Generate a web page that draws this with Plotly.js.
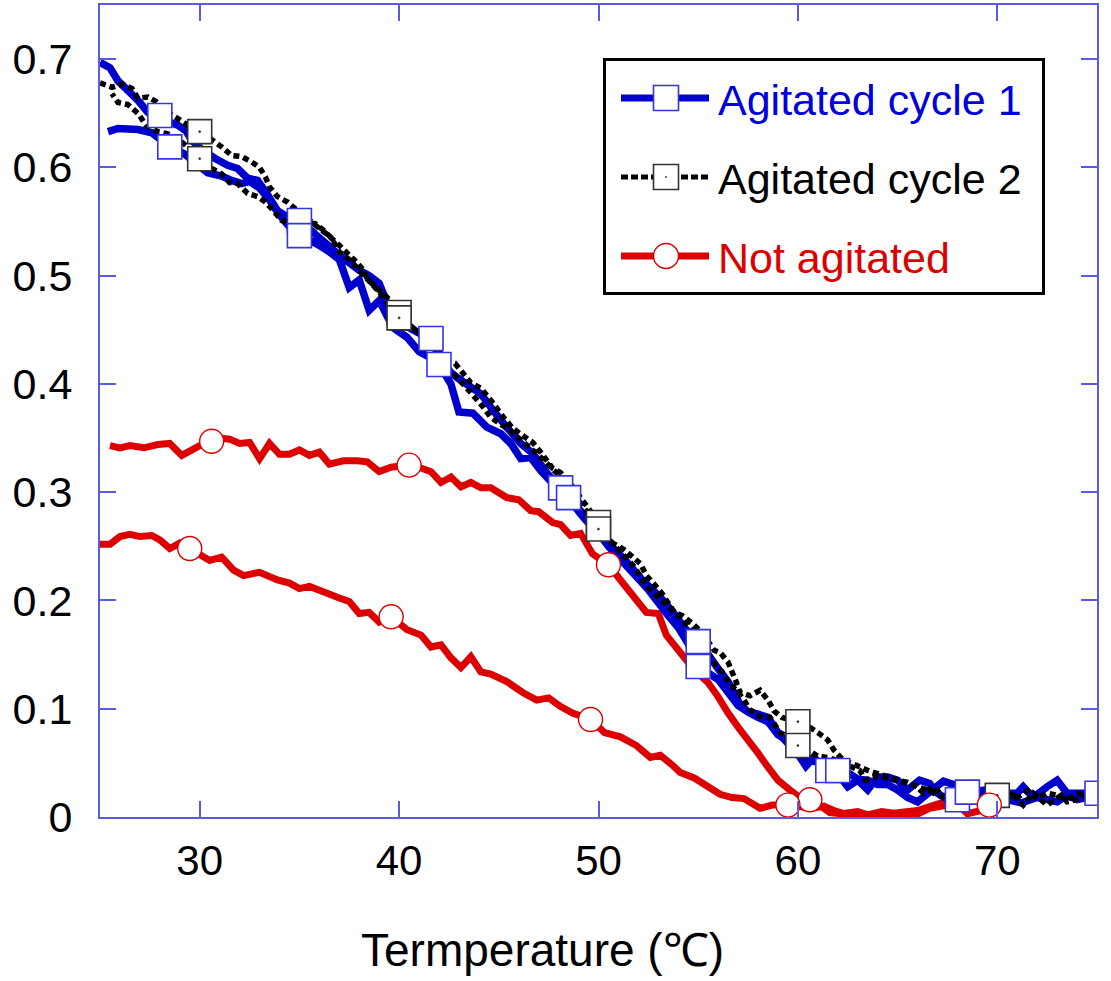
<!DOCTYPE html>
<html>
<head>
<meta charset="utf-8">
<script src="https://cdn.plot.ly/plotly-3.0.1.min.js"></script>
<style>html,body{margin:0;padding:0;background:#fff;}</style>
</head>
<body>
<div id="chart" style="width:1111px;height:981px;"></div>
<script>
// ---------- data ----------
// Agitated cycle 1 : heating branch and return branch
const blueUpT = [25.0,25.5,25.9,26.4,26.9,27.4,28.0,28.9,29.3,29.6,30.2,30.8,31.4,31.9,32.4,32.9,33.4,33.9,34.5,35.0,35.5,36.0,36.5,37.0,37.5,38.0,38.5,39.0,39.5,40.0,40.5,41.0,41.6,42.0,42.5,42.9,43.6,44.1,44.7,45.4,46.1,46.7,47.4,48.1,48.6,49.1,49.8,50.6,51.4,52.2,53.1,53.7,54.3,55.0,55.5,56.0,56.5,57.1,57.5,58.0,58.5,59.0,59.5,60.0,60.4,60.8,61.5,62.0,62.5,63.0,63.5,64.0,64.5,65.0,65.5,66.1,66.6,67.0,67.5,68.0,68.5,69.0,69.5,70.0,70.5,71.0,71.3,71.8,72.5,73.0,73.5,74.2,75.0];
const blueUpV = [0.697,0.692,0.680,0.671,0.662,0.651,0.645,0.639,0.634,0.625,0.615,0.608,0.602,0.599,0.590,0.588,0.575,0.560,0.553,0.551,0.543,0.535,0.527,0.519,0.512,0.505,0.500,0.493,0.470,0.455,0.452,0.447,0.442,0.425,0.412,0.406,0.397,0.391,0.376,0.360,0.345,0.336,0.318,0.304,0.292,0.280,0.265,0.251,0.236,0.219,0.203,0.190,0.175,0.162,0.150,0.137,0.125,0.104,0.097,0.095,0.092,0.078,0.068,0.058,0.047,0.055,0.043,0.040,0.028,0.034,0.025,0.037,0.037,0.034,0.025,0.034,0.031,0.022,0.016,0.016,0.020,0.023,0.015,0.018,0.022,0.022,0.028,0.018,0.028,0.034,0.022,0.022,0.022];
const blueDownT = [74.5,74.0,73.5,73.0,72.5,72.0,71.2,70.5,70.0,69.5,68.5,67.8,67.3,66.8,66.0,65.5,65.0,64.5,64.0,63.5,63.0,62.5,62.0,61.5,61.0,60.5,60.0,59.5,59.0,58.5,58.0,57.5,57.0,56.5,56.0,55.5,55.0,54.5,54.0,53.5,53.0,52.5,52.0,51.5,51.0,50.5,50.0,49.5,49.0,48.5,48.0,47.5,47.1,46.6,46.1,45.6,45.1,44.4,43.7,43.0,42.6,42.0,41.5,41.0,40.4,39.7,39.0,38.5,38.0,37.5,37.0,36.5,36.0,35.5,35.0,34.5,34.0,33.5,33.0,32.5,32.1,31.6,31.1,30.4,29.8,29.2,28.5,27.6,26.9,25.9,25.4];
const blueDownV = [0.018,0.016,0.020,0.014,0.016,0.018,0.013,0.016,0.020,0.025,0.023,0.030,0.033,0.026,0.014,0.018,0.025,0.030,0.030,0.034,0.035,0.041,0.043,0.046,0.050,0.055,0.062,0.070,0.076,0.088,0.092,0.097,0.103,0.115,0.127,0.133,0.139,0.160,0.175,0.186,0.198,0.210,0.220,0.230,0.240,0.250,0.262,0.274,0.285,0.295,0.303,0.312,0.320,0.332,0.331,0.345,0.354,0.360,0.373,0.374,0.400,0.418,0.425,0.430,0.443,0.452,0.477,0.468,0.496,0.489,0.515,0.522,0.528,0.533,0.537,0.545,0.556,0.570,0.581,0.587,0.585,0.588,0.592,0.595,0.604,0.613,0.619,0.632,0.635,0.636,0.633];
const blueMarkT = [28.0,35.0,41.6,48.1,55.0,61.5,68.0,75.0,68.5,62.0,55.0,48.5,42.0,35.0,28.5];
const blueMarkV = [0.648,0.551,0.442,0.304,0.162,0.043,0.016,0.022,0.023,0.043,0.139,0.295,0.418,0.537,0.619];

// Agitated cycle 2
const blackUpT = [25.0,25.6,26.1,26.6,26.9,27.4,27.8,28.2,28.9,29.4,30.0,30.5,31.1,31.6,32.1,32.6,33.0,33.3,33.5,33.9,34.4,34.9,35.4,35.9,36.4,37.0,37.5,37.9,38.2,38.4,38.9,39.4,40.0,40.5,41.0,41.5,42.0,42.5,42.8,43.2,43.6,44.1,44.6,45.2,45.7,46.3,46.7,47.1,47.7,48.1,48.7,49.3,50.0,50.7,51.2,51.6,52.1,52.4,52.8,53.2,53.8,54.2,54.7,55.2,55.8,56.1,56.5,56.7,56.9,57.1,57.6,58.1,58.5,58.8,59.2,60.0,60.5,61.0,61.5,61.8,62.3,62.9,63.5,64.0,64.5,65.0,65.5,65.9,66.3,66.8,67.3,67.8,68.3,68.8,69.3,70.0,70.5,71.0,71.5,72.0,72.5,73.0,73.5,74.0,74.5];
const blackUpV = [0.678,0.674,0.677,0.673,0.664,0.665,0.661,0.653,0.645,0.639,0.633,0.627,0.619,0.611,0.610,0.605,0.600,0.591,0.582,0.573,0.568,0.560,0.553,0.545,0.538,0.528,0.519,0.512,0.505,0.497,0.488,0.480,0.466,0.455,0.447,0.440,0.430,0.420,0.419,0.410,0.401,0.396,0.385,0.370,0.359,0.351,0.346,0.337,0.322,0.318,0.305,0.290,0.272,0.253,0.248,0.242,0.234,0.223,0.215,0.206,0.189,0.186,0.179,0.170,0.154,0.152,0.143,0.134,0.125,0.115,0.112,0.117,0.108,0.098,0.092,0.088,0.084,0.078,0.071,0.062,0.052,0.048,0.043,0.040,0.037,0.034,0.031,0.029,0.022,0.028,0.019,0.024,0.018,0.020,0.016,0.020,0.022,0.018,0.024,0.017,0.022,0.020,0.016,0.022,0.020];
const blackDownT = [74.0,73.5,73.2,72.5,71.8,71.3,70.8,70.2,69.5,69.0,68.5,68.0,67.5,67.0,66.5,66.0,65.5,65.0,64.5,64.0,63.4,63.1,62.5,62.0,61.5,61.0,60.5,60.0,59.5,59.1,58.6,58.1,57.6,57.3,57.0,56.5,56.2,55.8,55.3,54.8,54.3,53.8,53.3,52.8,52.4,51.8,51.2,50.6,50.0,49.5,49.0,48.5,48.0,47.5,47.0,46.5,46.0,45.5,45.0,44.6,44.2,43.6,43.0,42.5,42.0,41.5,41.0,40.5,40.0,39.5,39.0,38.5,38.0,37.5,37.0,36.6,36.2,35.8,35.0,34.5,34.1,33.7,33.3,32.9,32.4,31.9,31.5,31.1,30.5,30.0,29.5,29.0,28.4,27.9,27.3,26.9,26.4,25.9,25.6];
const blackDownV = [0.016,0.014,0.020,0.011,0.022,0.011,0.020,0.015,0.018,0.014,0.020,0.015,0.018,0.020,0.025,0.028,0.032,0.034,0.036,0.038,0.034,0.043,0.048,0.052,0.055,0.056,0.062,0.066,0.074,0.078,0.092,0.093,0.099,0.108,0.115,0.125,0.134,0.142,0.158,0.170,0.180,0.190,0.198,0.206,0.213,0.231,0.243,0.255,0.266,0.280,0.292,0.305,0.316,0.325,0.334,0.342,0.350,0.358,0.364,0.369,0.379,0.392,0.404,0.414,0.424,0.436,0.447,0.455,0.461,0.472,0.485,0.495,0.505,0.515,0.522,0.535,0.542,0.548,0.550,0.549,0.551,0.560,0.568,0.573,0.576,0.585,0.586,0.594,0.600,0.608,0.617,0.625,0.631,0.633,0.639,0.650,0.658,0.660,0.668];
const blackMarkT = [30,40,50,60,70,60,50,40,30];
const blackMarkV = [0.633,0.466,0.272,0.088,0.020,0.066,0.266,0.461,0.608];

// Not agitated
const redUpT = [25.5,26.0,26.5,27.2,27.9,28.5,29.1,29.5,30.0,30.6,31.0,31.5,32.0,32.5,33.0,33.5,34.0,34.5,35.0,35.5,36.0,36.5,37.2,37.9,38.4,39.0,39.6,40.5,41.0,41.6,42.1,42.6,43.1,43.6,44.1,44.6,45.4,46.0,46.6,47.0,47.7,48.1,48.6,49.1,49.7,50.5,51.4,52.4,53.0,53.4,54.1,54.8,55.5,56.0,56.5,57.0,57.5,58.0,58.5,59.0,59.6,60.1,60.6,61.0,61.6,62.2,63.0,63.5,64.2,65.0,65.8,66.6,67.5,68.0,68.5,69.2,69.6];
const redUpV = [0.343,0.341,0.343,0.341,0.344,0.345,0.334,0.338,0.343,0.347,0.350,0.349,0.345,0.346,0.331,0.345,0.335,0.335,0.339,0.334,0.337,0.326,0.329,0.329,0.328,0.319,0.323,0.325,0.323,0.319,0.309,0.314,0.305,0.309,0.304,0.304,0.295,0.293,0.283,0.282,0.272,0.270,0.260,0.262,0.243,0.233,0.212,0.189,0.188,0.168,0.152,0.136,0.124,0.111,0.096,0.083,0.071,0.059,0.046,0.034,0.025,0.018,0.016,0.012,0.004,0.003,0.005,0.002,0.005,0.003,0.001,0.008,0.011,0.012,0.003,0.006,0.011];
const redDownT = [69.0,68.4,67.8,67.0,66.0,65.0,64.0,63.3,62.5,61.8,61.3,60.6,60.0,59.5,58.7,58.1,57.3,56.7,56.1,55.5,54.8,54.1,53.7,53.1,52.6,51.9,51.1,50.3,49.6,48.7,48.1,47.5,46.9,46.2,45.4,44.6,44.1,43.6,43.1,42.6,42.1,41.6,41.1,40.4,39.6,39.0,38.5,38.0,37.5,36.9,36.2,35.5,35.0,34.5,33.9,33.0,32.2,31.7,31.1,30.5,29.5,29.0,28.5,28.0,27.6,27.0,26.5,26.0,25.5,25.0];
const redDownV = [0.014,0.019,0.016,0.012,0.006,0.004,0.003,0.000,0.002,0.006,0.010,0.008,0.010,0.011,0.011,0.008,0.017,0.018,0.021,0.028,0.036,0.041,0.048,0.057,0.055,0.066,0.074,0.078,0.090,0.096,0.102,0.110,0.108,0.115,0.125,0.132,0.134,0.148,0.138,0.147,0.159,0.157,0.168,0.173,0.185,0.180,0.189,0.188,0.199,0.203,0.208,0.213,0.211,0.216,0.219,0.226,0.223,0.228,0.240,0.237,0.248,0.253,0.248,0.256,0.260,0.259,0.261,0.259,0.252,0.252];
const redMarkT = [30.6,40.5,50.5,60.6,69.6,59.5,49.6,39.6,29.5];
const redMarkV = [0.347,0.325,0.233,0.016,0.011,0.011,0.090,0.185,0.248];

const seriesNames = ['Agitated cycle 1','Agitated cycle 2','Not agitated'];
const xTitle = 'Termperature (℃)';

// ---------- styling ----------
const BLUE = '#0000cc', BLUE_MK = '#3434e0', BLACK = '#000000', RED = '#dd0000', AXIS = '#5a5ae6';
const FONT = 'Liberation Sans, Arial, Helvetica, sans-serif';
const W = 1111, H = 981, PL = 100, PR = 1097, PT = 5, PB = 817;
const fx = p => (p - PL) / (PR - PL);
const fy = p => (PB - p) / (PB - PT);

const traces = [
  {x: redUpT.concat(redDownT), y: redUpV.concat(redDownV), mode: 'lines',
   line: {color: RED, width: 7, simplify: false}, showlegend: false, hoverinfo: 'skip'},
  {x: blueUpT.concat(blueDownT), y: blueUpV.concat(blueDownV), mode: 'lines',
   line: {color: BLUE, width: 7.5, simplify: false}, showlegend: false, hoverinfo: 'skip'},
  {x: blackUpT.concat(blackDownT), y: blackUpV.concat(blackDownV), mode: 'lines',
   line: {color: BLACK, width: 5.5, dash: '6px,4px', simplify: false}, showlegend: false, hoverinfo: 'skip'},
  {x: blueMarkT, y: blueMarkV, mode: 'markers', showlegend: false, hoverinfo: 'skip',
   marker: {symbol: 'square', size: 24, color: '#ffffff', line: {color: BLUE_MK, width: 1.6}}},
  {x: blackMarkT, y: blackMarkV, mode: 'markers', showlegend: false, hoverinfo: 'skip',
   marker: {symbol: 'square-dot', size: 24, color: '#ffffff', line: {color: '#333333', width: 1.6}}},
  {x: redMarkT, y: redMarkV, mode: 'markers', showlegend: false, hoverinfo: 'skip',
   marker: {symbol: 'circle', size: 24, color: '#ffffff', line: {color: RED, width: 1.4}}}
];

// ---------- hand-drawn legend (pixel positions converted to paper) ----------
const shapes = [];
const annotations = [];
function hline(x0, x1, y, color, width, dash) {
  shapes.push({type: 'line', xref: 'paper', yref: 'paper', x0: fx(x0), x1: fx(x1), y0: fy(y), y1: fy(y),
    line: {color: color, width: width, dash: dash || 'solid'}, layer: 'above'});
}
function box(cx, cy, s, stroke, lw) {
  shapes.push({type: 'rect', xref: 'paper', yref: 'paper', x0: fx(cx - s/2), x1: fx(cx + s/2), y0: fy(cy + s/2), y1: fy(cy - s/2),
    fillcolor: '#ffffff', line: {color: stroke, width: lw}, layer: 'above'});
}
shapes.push({type: 'rect', xref: 'paper', yref: 'paper', x0: fx(604.5), x1: fx(1043.5), y0: fy(293.5), y1: fy(59.5),
  fillcolor: '#ffffff', line: {color: '#000000', width: 3}, layer: 'above'});
const rows = [98, 177, 256];
hline(621, 709, rows[0], BLUE, 7);
box(666, rows[0], 25, BLUE_MK, 1.6);
hline(621, 709, rows[1], BLACK, 5, '7px,3px');
box(666, rows[1], 25, '#333333', 1.6);
shapes.push({type: 'rect', xref: 'paper', yref: 'paper', x0: fx(665.3), x1: fx(666.7), y0: fy(rows[1] + 0.7), y1: fy(rows[1] - 0.7),
  fillcolor: '#000', line: {width: 0}, layer: 'above'});
hline(621, 709, rows[2], RED, 7);
shapes.push({type: 'circle', xref: 'paper', yref: 'paper', x0: fx(653.5), x1: fx(678.5), y0: fy(rows[2] + 12.5), y1: fy(rows[2] - 12.5),
  fillcolor: '#ffffff', line: {color: RED, width: 1.4}, layer: 'above'});
const textColors = ['#0000dd', '#000000', '#dd0000'];
seriesNames.forEach((n, i) => {
  annotations.push({text: n, xref: 'paper', yref: 'paper', x: fx(716), y: fy(rows[i] + 2), xanchor: 'left', yanchor: 'middle',
    showarrow: false, font: {family: FONT, size: 43, color: textColors[i]}});
});
// x-axis title, placed where the reference has it
annotations.push({text: xTitle, xref: 'paper', yref: 'paper', x: fx(542), y: fy(950), xanchor: 'center', yanchor: 'middle',
  showarrow: false, font: {family: FONT, size: 46, color: '#000000'}});

const layout = {
  width: W, height: H,
  margin: {l: PL, r: W - PR, t: PT, b: H - PB},
  paper_bgcolor: '#ffffff', plot_bgcolor: '#ffffff',
  showlegend: false,
  font: {family: FONT, color: '#000000'},
  xaxis: {
    range: [25, 75], tick0: 30, dtick: 10, ticks: 'inside', ticklen: 16, tickwidth: 2, tickcolor: AXIS,
    showline: true, linecolor: AXIS, linewidth: 2, mirror: 'ticks', showgrid: false, zeroline: false,
    tickfont: {family: FONT, size: 42, color: '#000000'}, ticklabelstandoff: 6,
    automargin: false, fixedrange: true
  },
  yaxis: {
    range: [0, 0.75], tick0: 0, dtick: 0.1, ticks: 'inside', ticklen: 16, tickwidth: 2, tickcolor: AXIS,
    showline: true, linecolor: AXIS, linewidth: 2, mirror: 'ticks', showgrid: false, zeroline: false,
    tickfont: {family: FONT, size: 43, color: '#000000'}, ticklabelstandoff: 17,
    automargin: false, fixedrange: true
  },
  shapes: shapes,
  annotations: annotations
};

Plotly.newPlot('chart', traces, layout, {staticPlot: true, displayModeBar: false});
</script>
</body>
</html>
